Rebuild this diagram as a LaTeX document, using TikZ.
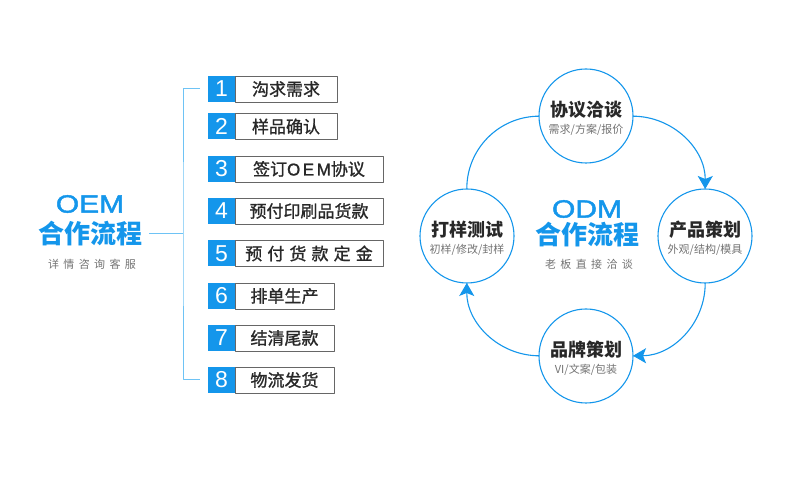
\documentclass[tikz,border=0pt]{standalone}
\usepackage{fontspec}
\usetikzlibrary{arrows.meta}
\newfontfamily\cjk{Noto Sans CJK SC}
\newfontfamily\cjkmed[FakeBold=1.2]{Noto Sans CJK SC}
\newfontfamily\cjkwide[LetterSpace=40]{Noto Sans CJK SC}
\newfontfamily\cjkmidspace[LetterSpace=30,FakeBold=1.2]{Noto Sans CJK SC}
\newfontfamily\lat{Liberation Sans}
\newfontfamily\latheavy[FakeBold=1.6]{Liberation Sans}
\newfontfamily\latwide[LetterSpace=15,FakeBold=1.2]{Liberation Sans}
\definecolor{oblue}{RGB}{20,150,235}
\definecolor{lblue}{RGB}{110,195,245}
\definecolor{tgray}{RGB}{40,40,40}
\definecolor{sgray}{RGB}{115,115,115}
\begin{document}
\begin{tikzpicture}[x=1pt,y=1pt,line join=round,>={Stealth[length=13pt,width=15pt,inset=3pt]}]
    \tikzset{every node/.style={inner sep=0pt,outer sep=0pt}}
    \tikzset{numbox/.style={fill=oblue,minimum width=27pt,minimum height=26pt,text=white,font=\lat\fontsize{23}{23}\selectfont},
        stepbox/.style={draw=black!60,line width=0.9pt,fill=white,minimum height=26pt,anchor=west,text=tgray,font=\cjkmed\fontsize{17}{17}\selectfont},
        ring/.style={circle,draw=oblue,line width=1.1pt,minimum size=94pt},
        ringtitle/.style={text=tgray,font=\cjk\bfseries\fontsize{18}{18}\selectfont},
        ringsub/.style={text=sgray,font=\cjk\fontsize{11}{11}\selectfont},
        bigtitle/.style={text=oblue,font=\cjk\bfseries\fontsize{26}{26}\selectfont},
        bigabbr/.style={text=oblue,xscale=1.2,font=\latheavy\fontsize{25}{25}\selectfont},
        graysub/.style={text=sgray,font=\cjkwide\fontsize{11}{11}\selectfont},
        bracket/.style={draw=lblue,line width=1pt},
        cycle/.style={draw=oblue,line width=1.1pt}}
    \useasboundingbox (0,0) rectangle (790,486);
    \node[bigabbr] (oemA) at (90,282) {OEM};
    \node[bigtitle] (oemB) at (90,252) {合作流程};
    \node[graysub] (oemC) at (92,222) {详情咨询客服};
    \foreach \i/\y/\w/\txt in {1/397/102/沟求需求,2/359.5/102/样品确认,3/317/148/{签订{\latwide OEM}协议},4/275/148/预付印刷品货款,5/232.5/148/{\cjkmidspace 预付货款定金},6/190/99/排单生产,7/148/99/结清尾款,8/106/99/物流发货}
    {
        \node[stepbox,minimum width=\w] (s\i) at (235,\y) {\txt};
        \node[numbox] (n\i) at (221.5,\y) {\i};
    }
    \coordinate (br) at (183,252);
    \draw[bracket] ([xshift=7pt]oemB.east) -- (oemB.east -| br);
    \draw[bracket] ([xshift=-8pt]n1.west) -| (br) |- ([xshift=-8pt]n8.west);
    \foreach \n/\x/\y/\t/\s in {ta/586/370/协议洽谈/{需求/方案/报价},tb/705/250/产品策划/{外观/结构/模具},tc/586/130/品牌策划/{VI/文案/包装},td/467/250/打样测试/{初样/修改/封样}}
    {
        \node[ring] (\n) at (\x,\y) {};
        \node[ringtitle] at ([yshift=6pt]\n.center) {\t};
        \node[ringsub] at ([yshift=-14pt]\n.center) {\s};
    }
    \draw[cycle,->] (ta) to[bend left=45] (tb);
    \draw[cycle,->] (tb) to[bend left=45] (tc);
    \draw[cycle,->] (tc) to[bend left=45] (td);
    \draw[cycle] (td) to[bend left=45] (ta);
    \node[bigabbr] (odmA) at (587,277) {ODM};
    \node[bigtitle] (odmB) at (587,251) {合作流程};
    \node[graysub] (odmC) at (589,222) {老板直接洽谈};
\end{tikzpicture}
\end{document}
